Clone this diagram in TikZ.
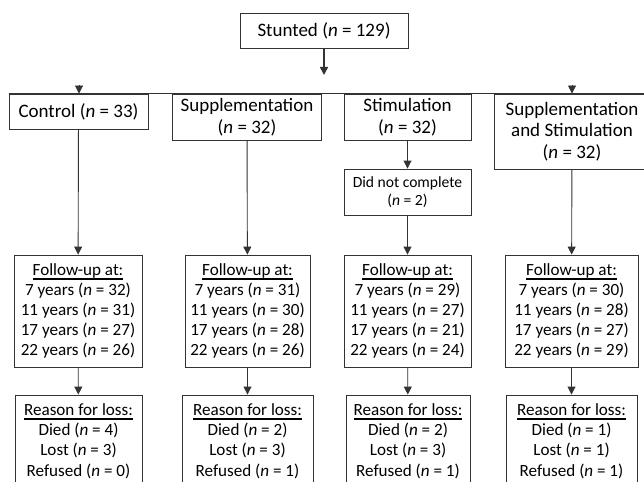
\documentclass[tikz,border=0pt]{standalone}
\usepackage{fontspec}
\setmainfont{Carlito}
\usetikzlibrary{arrows.meta}
\newcommand{\heading}[1]{\setbox0=\hbox{#1}\rlap{\rule[-4.4pt]{\wd0}{1.6pt}}\box0}

\begin{document}
\begin{tikzpicture}[x=1pt, y=-1pt,
  box/.style={draw=black!80, line width=0.9pt, align=center, inner sep=0pt, font=\fontsize{19}{21.5}\selectfont},
  list/.style={box, font=\fontsize{17.1}{20.2}\selectfont},
  arr/.style={-{Triangle[length=8pt,width=8pt]}, draw=black!80, line width=0.9pt}]
\useasboundingbox (0,0) rectangle (644,481);
\node[box, minimum width=168pt, minimum height=35pt] (S) at (324,30.5) {Stunted (\textit{n} = 129)};
\node[box, minimum width=139pt, minimum height=35pt] (C1) at (78.5,111.5) {Control (\textit{n} = 33)};
\node[box, minimum width=149pt, minimum height=46pt] (C2) at (247,117) {Supplementation\\(\textit{n} = 32)};
\node[box, minimum width=127pt, minimum height=46pt] (C3) at (407.5,117) {Stimulation\\(\textit{n} = 32)};
\node[box, minimum width=156pt, minimum height=75pt] (C4) at (572,131.5) {Supplementation\\and Stimulation\\(\textit{n} = 32)};
\node[box, minimum width=127pt, minimum height=46pt, font=\fontsize{15.6}{18}\selectfont] (D) at (407.5,192) {Did not complete\\(\textit{n} = 2)};
\node[list, minimum width=128pt, minimum height=112pt] (F1) at (78,311) {\heading{Follow-up at:}\\7 years (\textit{n} = 32)\\11 years (\textit{n} = 31)\\17 years (\textit{n} = 27)\\22 years (\textit{n} = 26)};
\node[list, minimum width=125pt, minimum height=112pt] (F2) at (247.5,311) {\heading{Follow-up at:}\\7 years (\textit{n} = 31)\\11 years (\textit{n} = 30)\\17 years (\textit{n} = 28)\\22 years (\textit{n} = 26)};
\node[list, minimum width=127pt, minimum height=112pt] (F3) at (407.5,311) {\heading{Follow-up at:}\\7 years (\textit{n} = 29)\\11 years (\textit{n} = 27)\\17 years (\textit{n} = 21)\\22 years (\textit{n} = 24)};
\node[list, minimum width=133pt, minimum height=112pt] (F4) at (571.5,311) {\heading{Follow-up at:}\\7 years (\textit{n} = 30)\\11 years (\textit{n} = 28)\\17 years (\textit{n} = 27)\\22 years (\textit{n} = 29)};
\node[list, minimum width=127pt, minimum height=92pt] (R1) at (78.5,441) {\heading{Reason for loss:}\\Died (\textit{n} = 4)\\Lost (\textit{n} = 3)\\Refused (\textit{n} = 0)};
\node[list, minimum width=131pt, minimum height=92pt] (R2) at (247.5,441) {\heading{Reason for loss:}\\Died (\textit{n} = 2)\\Lost (\textit{n} = 3)\\Refused (\textit{n} = 1)};
\node[list, minimum width=124pt, minimum height=92pt] (R3) at (408,441) {\heading{Reason for loss:}\\Died (\textit{n} = 2)\\Lost (\textit{n} = 3)\\Refused (\textit{n} = 1)};
\node[list, minimum width=131pt, minimum height=92pt] (R4) at (571.5,441) {\heading{Reason for loss:}\\Died (\textit{n} = 1)\\Lost (\textit{n} = 1)\\Refused (\textit{n} = 1)};
\coordinate (s1) at (324,75);
\coordinate (a1) at (79,85);
\coordinate (a4) at (572,85);
\draw[arr, line width=1.6pt] (S) -- (s1);
\draw[draw=black!80, line width=0.9pt] (C1.north west) -- (C4.north east);
\draw[arr] (a1) -- (a1 |- C1.north);
\draw[arr] (a4) -- (a4 |- C4.north);
\draw[arr] (C1) -- (F1);
\draw[arr] (C2) -- (F2);
\draw[arr] (C3) -- (D);
\draw[arr] (D) -- (F3);
\draw[arr] (C4) -- (F4);
\draw[arr] (F1) -- (R1);
\draw[arr] (F2) -- (R2);
\draw[arr] (F3) -- (R3);
\draw[arr] (F4) -- (R4);
\end{tikzpicture}
\end{document}
